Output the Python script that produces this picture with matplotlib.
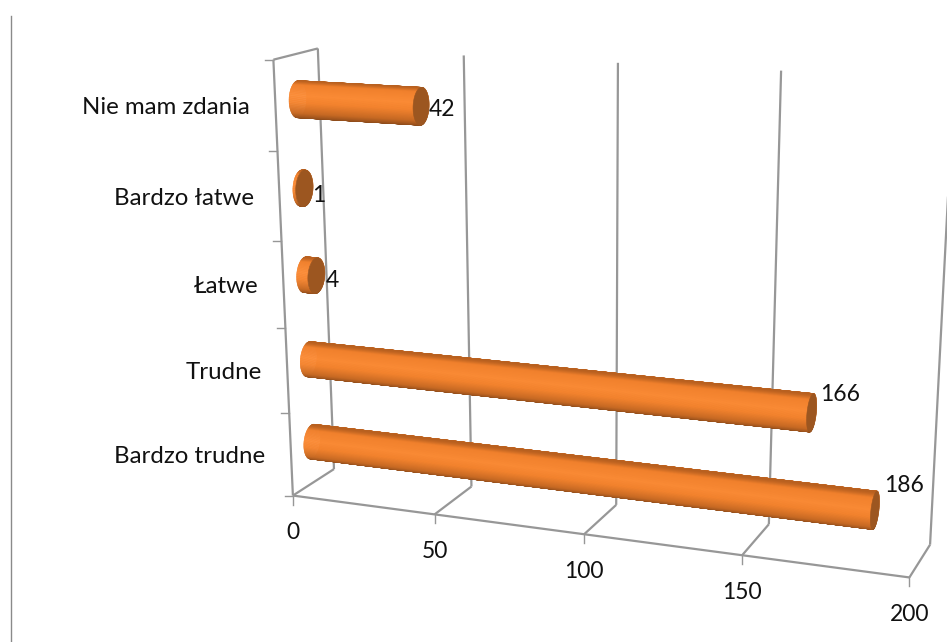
import numpy as np
import matplotlib
matplotlib.use('Agg')
import matplotlib.pyplot as plt
from matplotlib.collections import PolyCollection
from matplotlib.colors import to_rgb

plt.rcParams['font.family'] = ['Lato', 'DejaVu Sans']

# dane (od dolu do gory)
categories = ['Bardzo trudne', 'Trudne', 'Łatwe', 'Bardzo łatwe', 'Nie mam zdania']
values = [186, 166, 4, 1, 42]
value_ticks = [0, 50, 100, 150, 200]
value_max = 200

# kalibracja perspektywy: (wartosc/max, glebokosc, wysokosc) -> piksele
calib = [
    (0, 0, 0, 293, 496), (.25, 0, 0, 435, 515), (.75, 0, 0, 743, 556), (1, 0, 0, 909, 577),
    (0, 1, 0, 334, 469), (.25, 1, 0, 472, 487), (.75, 1, 0, 769, 524), (1, 1, 0, 929, 545),
    (0, 0, 1, 274, 61), (0, 1, 1, 318, 49), (.25, 1, 1, 463, 55), (.75, 1, 1, 782, 70),
    (0, 0, .2, 289, 412), (0, 0, .4, 285, 326), (0, 0, .6, 281, 240), (0, 0, .8, 277, 152),
]

A, b = [], []
for u, d, h, px, py in calib:
    A.append([u, d, h, 1, 0, 0, 0, 0, -px * u, -px * d, -px * h])
    b.append(px)
    A.append([0, 0, 0, 0, u, d, h, 1, -py * u, -py * d, -py * h])
    b.append(py)
m = np.linalg.lstsq(np.array(A, float), np.array(b, float), rcond=None)[0]
P = np.append(m, 1.0).reshape(3, 4)


def project(v, d, h):
    v, d, h = np.broadcast_arrays(np.asarray(v, float) / value_max, d, h)
    q = np.stack([v, d, h, np.ones_like(v)], axis=-1) @ P.T
    return q[..., 0] / q[..., 2], q[..., 1] / q[..., 2]


fig = plt.figure(figsize=(9.47, 6.42), dpi=100)
ax = fig.add_axes([0, 0, 1, 1])
ax.set_xlim(0, 947)
ax.set_ylim(642, 0)
ax.axis('off')

grid_color = '#979797'
grid_lw = 1.6


def seg(a, b):
    x0, y0 = project(*a)
    x1, y1 = project(*b)
    ax.plot([x0, x1], [y0, y1], color=grid_color, lw=grid_lw, zorder=1, solid_capstyle='butt')


# ramka po lewej
ax.plot([11, 11], [16, 642], color='#8a8a8a', lw=1.0, zorder=1)

# siatka: sciana tylna, podloga, sciana lewa
for t in value_ticks:
    seg((t, 1, 0), (t, 1, 1))
    seg((t, 0, 0), (t, 1, 0))
seg((0, 0, 0), (value_max, 0, 0))
seg((0, 0, 0), (0, 0, 1))
seg((0, 0, 1), (0, 1, 1))

# znaczniki i opisy osi wartosci
for t in value_ticks:
    x, y = project(t, 0, 0)
    ax.plot([x, x], [y, y + 9], color=grid_color, lw=1.0, zorder=1)
    ax.text(x, y + 37, str(t), fontsize=16.5, color='#111111', ha='center', va='center')

# znaczniki i opisy kategorii
n = len(categories)
for i in range(n + 1):
    x, y = project(0, 0, i / n)
    ax.plot([x - 8, x], [y, y], color=grid_color, lw=1.0, zorder=1)
for i, name in enumerate(categories):
    x, y = project(0, 0, (i + .5) / n)
    ax.text(x - 25.5, y + 2, name, fontsize=17.3, color='#111111', ha='right', va='center')

# walce
stops = [-1, -.6, 0, .35, .85, 1]
stop_cols = np.array([to_rgb(c) for c in ['#8a4a1a', '#c86a24', '#f5842e', '#fb8b35', '#f0802c', '#b8601f']])
rad_d, rad_h = .2, .041
angles = np.linspace(0, 2 * np.pi, 181)
half_step = np.pi / 180
label_offsets = [(9, -25), (8, -18), (9, 5), (8, 7), (8, 3)]

for i, val in enumerate(values):
    hc = (i + .5) / n
    dd = .5 + rad_d * np.cos(angles)
    hh = hc + rad_h * np.sin(angles)
    x0, y0 = project(np.zeros_like(angles), dd, hh)
    x1, y1 = project(np.full_like(angles, val), dd, hh)
    order = np.argsort(-np.cos(angles[:-1] + half_step))
    polys, cols = [], []
    for k in order:
        polys.append([(x0[k], y0[k]), (x1[k], y1[k]), (x1[k + 1], y1[k + 1]), (x0[k + 1], y0[k + 1])])
        s = np.sin(angles[k] + half_step)
        cols.append([np.interp(s, stops, stop_cols[:, c]) for c in range(3)])
    ax.add_collection(PolyCollection(polys, facecolors=cols, edgecolors=cols, linewidths=.3, zorder=3))
    ax.fill(x1, y1, color='#9c5620', lw=.4, zorder=4)

    # etykieta wartosci
    xe, ye = project(val, .5, hc)
    dx, dy = label_offsets[i]
    ax.text(xe + dx, ye + dy, str(val), fontsize=16.5, color='#111111', ha='left', va='center', zorder=5)

fig.savefig('out.png', dpi=100)
